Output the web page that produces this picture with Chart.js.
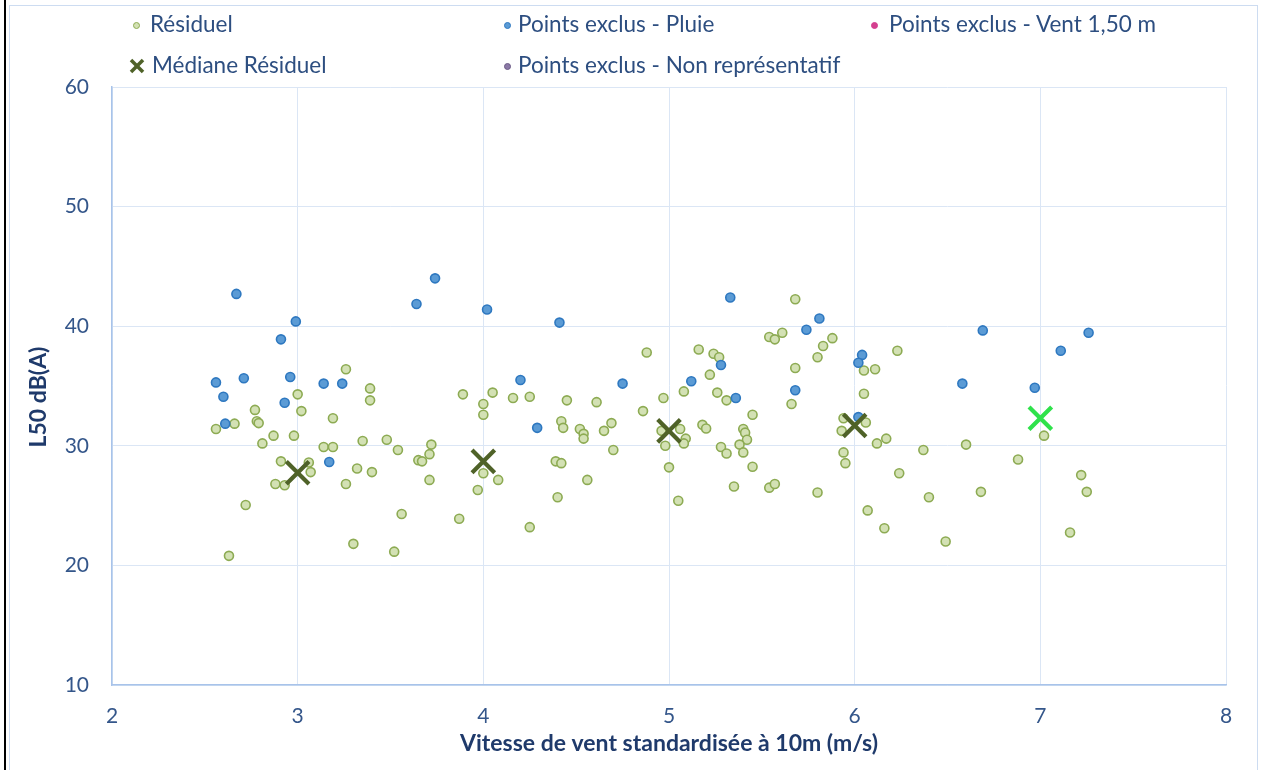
<!DOCTYPE html>
<html>
<head>
<meta charset="utf-8">
<script src="https://cdn.jsdelivr.net/npm/chart.js@4.4.1/dist/chart.umd.min.js"></script>
<style>
  html, body { margin: 0; padding: 0; background: #ffffff; }
  body { width: 1265px; height: 770px; position: relative; overflow: hidden; font-family: Lato, "Open Sans", sans-serif; }
  #blackline { position: absolute; left: 4px; top: 0; width: 2px; height: 770px; background: #000; }
  #frame { position: absolute; left: 9px; top: 5px; width: 1247px; height: 800px; border: 1px solid #cddcf1; }
  #wrap { position: absolute; left: 0; top: 0; width: 1265px; height: 770px; }
  .lg { position: absolute; font-size: 22.5px; line-height: 26px; color: #2d4e80; white-space: nowrap; }
  .mk { position: absolute; border-radius: 50%; box-sizing: border-box; }
</style>
</head>
<body>
<div id="blackline"></div>
<div id="frame"></div>
<div id="wrap"><canvas id="c" width="1265" height="770"></canvas></div>
<div id="legend"></div>
<script>
// ---- Data ----
const xTicks = [2, 3, 4, 5, 6, 7, 8];
const yTicks = [10, 20, 30, 40, 50, 60];

const seriesNames = [
  "Résiduel",
  "Points exclus - Pluie",
  "Points exclus - Vent 1,50 m",
  "Médiane Résiduel",
  "Points exclus - Non représentatif"
];
const xTitle = "Vitesse de vent standardisée à 10m (m/s)";
const yTitle = "L50 dB(A)";

// Résiduel: wind speed (m/s) and L50 dB(A)
const residuelX = [2.56, 2.66, 2.77, 2.78, 2.79, 2.81, 2.87, 2.98, 3.00, 3.02, 2.91, 3.06, 3.07, 2.88, 2.93, 2.72, 2.63,
  3.26, 3.39, 3.39, 3.19, 3.14, 3.19, 3.35, 3.48, 3.54, 3.32, 3.40, 3.26, 3.56, 3.30, 3.52,
  3.72, 3.71, 3.65, 3.67, 3.71, 3.87, 3.89, 4.00, 4.00, 4.05, 4.16, 4.25, 4.00, 4.08, 3.97, 4.25,
  4.45, 4.61, 4.42, 4.43, 4.52, 4.54, 4.54, 4.65, 4.69, 4.70, 4.39, 4.42, 4.56, 4.40,
  4.88, 4.86, 4.97, 4.96, 5.06, 5.09, 5.08, 4.98, 5.00, 5.05, 5.08, 5.16, 5.24, 5.27, 5.22, 5.26, 5.31, 5.18, 5.20,
  5.45, 5.40, 5.41, 5.42, 5.38, 5.28, 5.31, 5.40, 5.45, 5.35, 5.54, 5.57, 5.54, 5.57, 5.61, 5.68, 5.68, 5.66, 5.80, 5.80,
  5.88, 5.83, 6.23, 6.05, 6.11, 6.05, 5.94, 5.93, 6.06, 6.12, 6.17, 5.94, 5.95, 6.37, 6.60, 6.88, 7.02,
  6.24, 6.07, 6.16, 6.40, 6.49, 6.68, 7.22, 7.25, 7.16];
const residuelY = [31.4, 31.85, 33.0, 32.05, 31.9, 30.2, 30.85, 30.85, 34.3, 32.9, 28.7, 28.6, 27.8, 26.8, 26.7, 25.05, 20.8,
  36.4, 34.8, 33.8, 32.3, 29.9, 29.9, 30.4, 30.5, 29.65, 28.1, 27.8, 26.8, 24.3, 21.8, 21.15,
  30.1, 29.3, 28.8, 28.7, 27.15, 23.9, 34.3, 33.5, 32.6, 34.45, 34.0, 34.1, 27.7, 27.15, 26.3, 23.2,
  33.8, 33.65, 32.05, 31.5, 31.4, 31.0, 30.6, 31.25, 31.9, 29.65, 28.7, 28.55, 27.15, 25.7,
  37.8, 32.9, 34.0, 31.25, 31.4, 30.6, 30.2, 30.0, 28.2, 25.4, 34.55, 38.05, 37.7, 37.4, 35.95, 34.45, 33.8, 31.75, 31.45,
  32.6, 31.4, 31.1, 30.5, 30.1, 29.9, 29.35, 29.45, 28.25, 26.6, 26.5, 26.8, 39.1, 38.9, 39.45, 42.25, 36.5, 33.5, 26.1, 37.4,
  39.0, 38.35, 37.95, 36.3, 36.4, 34.35, 32.3, 31.25, 31.95, 30.2, 30.6, 29.45, 28.55, 29.65, 30.1, 28.85, 30.85,
  27.7, 24.6, 23.1, 25.7, 22.0, 26.15, 27.55, 26.15, 22.75];

// Points exclus - Pluie
const pluieX = [2.67, 2.99, 2.91, 2.56, 2.71, 2.96, 2.60, 2.93, 3.14, 3.24, 2.61, 3.17, 3.64, 3.74, 4.02, 4.41, 4.20, 4.29,
  4.75, 5.33, 5.12, 5.28, 5.36, 5.74, 5.68, 5.81, 6.04, 6.02, 6.69, 7.26, 7.11, 6.58, 6.97, 6.02];
const pluieY = [42.7, 40.4, 38.9, 35.3, 35.65, 35.75, 34.1, 33.6, 35.2, 35.2, 31.85, 28.65, 41.85, 44.0, 41.4, 40.3, 35.5, 31.5,
  35.2, 42.4, 35.4, 36.75, 34.0, 39.7, 34.65, 40.65, 37.6, 36.95, 39.65, 39.45, 37.95, 35.2, 34.85, 32.4];

// Points exclus - Vent 1,50 m and Non représentatif: no visible points
const ventX = [];
const ventY = [];
const nonRepX = [];
const nonRepY = [];

// Médiane Résiduel per wind class
const medianeX = [3, 4, 5, 6, 7];
const medianeY = [27.75, 28.7, 31.25, 31.7, 32.3];

// ---- Build ----
const toPts = (xs, ys) => xs.map((x, i) => ({ x: x, y: ys[i] }));

const colGreenFill = '#d3e1b4', colGreenLine = '#8dab53';
const colBlueFill = '#5b9bd5', colBlueLine = '#2e78c0';
const colPink = '#d43f8f', colPurple = '#8b79a6';
const colMedian = '#4f6228', colMedianLast = '#2fe24b';

const tickColor = '#34568a';
const titleColor = '#1f3a6b';
const gridColor = '#dbe6f5';
const axisColor = '#a8c3ea';

// Y-axis title drawn beside the axis (slightly below the plot centre, as in the reference)
const yTitlePlugin = {
  id: 'yTitle',
  afterDraw(chart) {
    const c = chart.ctx, a = chart.chartArea;
    c.save();
    c.translate(39, (a.top + a.bottom) / 2 + 11);
    c.rotate(-Math.PI / 2);
    c.font = 'bold 23px Lato';
    c.fillStyle = titleColor;
    c.textAlign = 'center';
    c.textBaseline = 'middle';
    c.fillText(yTitle, 0, 0);
    c.restore();
  }
};

const ctx = document.getElementById('c').getContext('2d');
new Chart(ctx, {
  type: 'scatter',
  data: {
    datasets: [
      { label: seriesNames[3], data: toPts(medianeX, medianeY), order: 0,
        pointStyle: 'crossRot', radius: 16, borderWidth: 4.2,
        borderColor: medianeX.map((x, i) => i === medianeX.length - 1 ? colMedianLast : colMedian),
        backgroundColor: 'transparent' },
      { label: seriesNames[2], data: toPts(ventX, ventY), order: 1,
        pointStyle: 'circle', radius: 4.5, borderWidth: 1.5, backgroundColor: colPink, borderColor: colPink },
      { label: seriesNames[4], data: toPts(nonRepX, nonRepY), order: 1,
        pointStyle: 'circle', radius: 4.5, borderWidth: 1.5, backgroundColor: colPurple, borderColor: '#6a5a85' },
      { label: seriesNames[1], data: toPts(pluieX, pluieY), order: 2,
        pointStyle: 'circle', radius: 4.5, borderWidth: 1.6, backgroundColor: colBlueFill, borderColor: colBlueLine },
      { label: seriesNames[0], data: toPts(residuelX, residuelY), order: 3,
        pointStyle: 'circle', radius: 4.5, borderWidth: 1.6, backgroundColor: colGreenFill, borderColor: colGreenLine }
    ]
  },
  options: {
    responsive: false,
    animation: false,
    devicePixelRatio: 1,
    events: [],
    layout: { padding: { left: 0, top: 87, right: 39, bottom: 0 } },
    plugins: { legend: { display: false }, tooltip: { enabled: false }, title: { display: false } },
    scales: {
      x: {
        type: 'linear', min: xTicks[0], max: xTicks[xTicks.length - 1],
        afterBuildTicks: s => { s.ticks = xTicks.map(v => ({ value: v })); },
        afterFit: s => { s.height = 85; },
        ticks: { color: tickColor, padding: 19, font: { family: 'Lato', size: 21 } },
        grid: { color: gridColor, lineWidth: 1, drawTicks: false },
        border: { color: axisColor, width: 1.5 },
        title: { display: true, text: xTitle, color: titleColor,
                 font: { family: 'Lato', size: 23, weight: 'bold' }, padding: { top: 0, bottom: 13 } }
      },
      y: {
        type: 'linear', min: yTicks[0], max: yTicks[yTicks.length - 1],
        afterBuildTicks: s => { s.ticks = yTicks.map(v => ({ value: v })); },
        afterFit: s => { s.width = 112; },
        ticks: { color: tickColor, padding: 23, font: { family: 'Lato', size: 21 } },
        grid: { color: gridColor, lineWidth: 1, drawTicks: false },
        border: { color: axisColor, width: 1.5 },
        title: { display: false, text: yTitle }
      }
    }
  },
  plugins: [yTitlePlugin]
});

// ---- Legend (HTML, real text) ----
const legendItems = [
  { name: seriesNames[0], kind: 'dot', fill: colGreenFill, line: colGreenLine, mx: 136, tx: 150, cy: 25 },
  { name: seriesNames[1], kind: 'dot', fill: colBlueFill, line: colBlueLine, mx: 507, tx: 518, cy: 25 },
  { name: seriesNames[2], kind: 'dot', fill: colPink, line: colPink, mx: 874, tx: 889, cy: 25 },
  { name: seriesNames[3], kind: 'x', line: colMedian, mx: 137, tx: 152, cy: 66 },
  { name: seriesNames[4], kind: 'dot', fill: colPurple, line: '#6a5a85', mx: 507, tx: 518, cy: 66 }
];
const lg = document.getElementById('legend');
legendItems.forEach(it => {
  if (it.kind === 'dot') {
    const m = document.createElement('div');
    m.className = 'mk';
    m.style.left = (it.mx - 3.5) + 'px';
    m.style.top = (it.cy - 3.5) + 'px';
    m.style.width = '7px'; m.style.height = '7px';
    m.style.background = it.fill;
    m.style.border = '1.2px solid ' + it.line;
    lg.appendChild(m);
  } else {
    const svgNS = 'http://www.w3.org/2000/svg';
    const s = document.createElementNS(svgNS, 'svg');
    s.setAttribute('width', '16'); s.setAttribute('height', '16');
    s.style.position = 'absolute';
    s.style.left = (it.mx - 8) + 'px';
    s.style.top = (it.cy - 8) + 'px';
    [[2, 2, 14, 14], [14, 2, 2, 14]].forEach(c => {
      const l = document.createElementNS(svgNS, 'line');
      l.setAttribute('x1', c[0]); l.setAttribute('y1', c[1]);
      l.setAttribute('x2', c[2]); l.setAttribute('y2', c[3]);
      l.setAttribute('stroke', it.line); l.setAttribute('stroke-width', '3.6');
      s.appendChild(l);
    });
    lg.appendChild(s);
  }
  const t = document.createElement('div');
  t.className = 'lg';
  t.textContent = it.name;
  t.style.left = it.tx + 'px';
  t.style.top = (it.cy - 14) + 'px';
  lg.appendChild(t);
});
</script>
</body>
</html>
